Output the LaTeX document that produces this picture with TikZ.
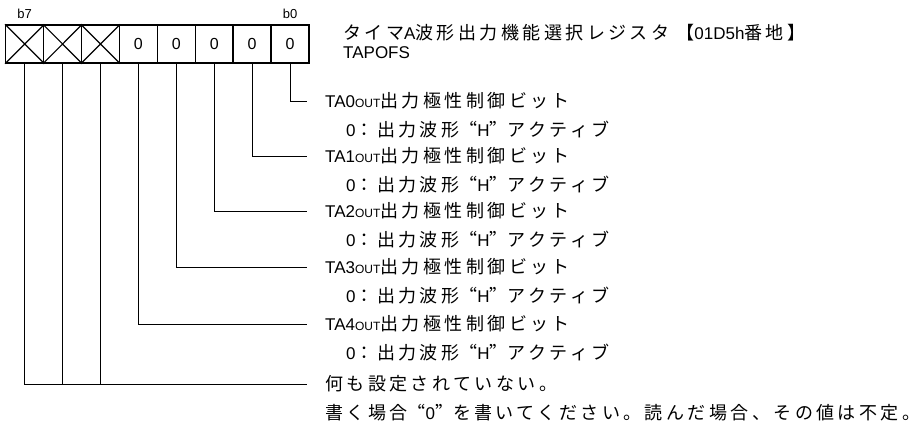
\documentclass[tikz,border=0pt]{standalone}
\usepackage{fontspec}
\setmainfont{Liberation Sans}
\newfontfamily\jp[Scale=1.06,LetterSpace=19]{Noto Sans CJK JP}
\newfontfamily\jpq[Scale=1.06,LetterSpace=19,CharacterWidth=Full]{Noto Sans CJK JP}
\usetikzlibrary{positioning}
\newcommand{\outsub}{{\fontsize{12}{13}\selectfont OUT}}
\newcommand{\polname}[1]{TA#1\outsub{\jp 出力極性制御ビット}}
\newcommand{\polval}{0{\jp ：出力波形}{\jpq “}H{\jpq ”}{\jp アクティブ}}
\begin{document}
\begin{tikzpicture}[x=1pt,y=-1pt,
  bitcell/.style={draw,line width=1.4pt,minimum width=37.9pt,minimum height=38pt,inner sep=0pt,font=\fontsize{16}{18}\selectfont},
  conn/.style={line width=0.8pt},
  reglabel/.style={anchor=west,inner xsep=18pt,inner ysep=0pt,font=\fontsize{17}{20}\selectfont}]
 \useasboundingbox (0,0) rectangle (923,426);
 \foreach \i in {0,...,4}
   \node[bitcell] (c\i) at ({290-37.9*\i},44) {0};
 \foreach \i in {5,6,7} {
   \node[bitcell] (c\i) at ({290-37.9*\i},44) {};
   \draw[line width=1.2pt] (c\i.north west) -- (c\i.south east) (c\i.north east) -- (c\i.south west);
 }
 \node[font=\fontsize{13}{14}\selectfont,above=2pt of c7] (b7) {b7};
 \node[font=\fontsize{13}{14}\selectfont,above=2pt of c0] (b0) {b0};
 \node[reglabel] (title) at (325,33) {{\jp タイマ}A{\jp 波形出力機能選択レジスタ}\hspace{7pt}{\jp 【}01D5h{\jp 番地】}};
 \node[reglabel] (regname) at (325,53) {TAPOFS};
 \foreach \i/\y in {0/101,1/156,2/211,3/267,4/324} {
   \node[reglabel] (t\i) at (307,\y) {\polname{\i}};
   \node[reglabel] (d\i) at (328,{\y+29}) {\polval};
   \draw[conn] (c\i.south) |- (t\i.west);
 }
 \node[reglabel] (tn) at (307,384) {\jp 何も設定されていない。};
 \node[reglabel] (dn) at (307,413) {{\jp 書く場合}{\jpq “}0{\jpq ”}{\jp を書いてください。読んだ場合、その値は不定。}};
 \draw[conn] (c7.south) |- (tn.west);
 \draw[conn] (c6.south) -- (c6.south |- tn.west);
 \draw[conn] (c5.south) -- (c5.south |- tn.west);
\end{tikzpicture}
\end{document}
